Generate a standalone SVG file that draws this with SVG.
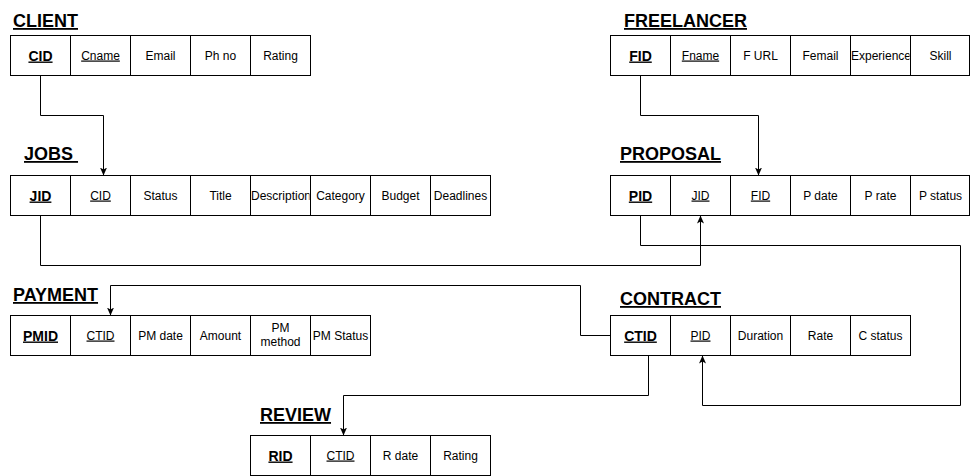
<svg xmlns="http://www.w3.org/2000/svg" width="971" height="476" viewBox="0 0 971 476">
<style>
.bg{fill:#fff}
.c{fill:#fff;stroke:#000;stroke-width:1}
.t{font-family:"Liberation Sans",Arial,sans-serif;font-size:12px;fill:#000;text-anchor:middle}
.k{font-size:14px;font-weight:bold;text-decoration:underline}
.u{text-decoration:underline}
.h{font-family:"Liberation Sans",Arial,sans-serif;font-size:18px;font-weight:bold;fill:#000;text-decoration:underline}
.e{fill:none;stroke:#000;stroke-width:1}
</style>
<defs>
<marker id="arr" markerUnits="userSpaceOnUse" markerWidth="9" markerHeight="8" refX="8" refY="3.5" orient="auto" viewBox="0 0 9 8">
<path d="M0 0 L8 3.5 L0 7 L2 3.5 Z" fill="#000"/>
</marker>
<clipPath id="clipDesc"><rect x="250.5" y="175.5" width="59" height="39"/></clipPath>
<clipPath id="clipExp"><rect x="850.5" y="35.5" width="59" height="39"/></clipPath>
</defs>
<rect class="bg" x="0" y="0" width="971" height="476"/>

<g id="client">
<text class="h" x="13" y="27">CLIENT</text>
<rect class="c" x="10.5" y="35.5" width="60" height="40"/>
<rect class="c" x="70.5" y="35.5" width="60" height="40"/>
<rect class="c" x="130.5" y="35.5" width="60" height="40"/>
<rect class="c" x="190.5" y="35.5" width="60" height="40"/>
<rect class="c" x="250.5" y="35.5" width="60" height="40"/>
<text class="t k" x="40.5" y="60.5">CID</text>
<text class="t u" x="100.5" y="59.5">Cname</text>
<text class="t" x="160.5" y="59.5">Email</text>
<text class="t" x="220.5" y="59.5">Ph no</text>
<text class="t" x="280.5" y="59.5">Rating</text>
</g>

<g id="freelancer">
<text class="h" x="624" y="27">FREELANCER</text>
<rect class="c" x="610.5" y="35.5" width="60" height="40"/>
<rect class="c" x="670.5" y="35.5" width="60" height="40"/>
<rect class="c" x="730.5" y="35.5" width="60" height="40"/>
<rect class="c" x="790.5" y="35.5" width="60" height="40"/>
<rect class="c" x="850.5" y="35.5" width="60" height="40"/>
<rect class="c" x="910.5" y="35.5" width="59" height="40"/>
<text class="t k" x="640.5" y="60.5">FID</text>
<text class="t u" x="700.5" y="59.5">Fname</text>
<text class="t" x="760.5" y="59.5">F URL</text>
<text class="t" x="820.5" y="59.5">Femail</text>
<text class="t" x="881" y="59.5" clip-path="url(#clipExp)">Experience</text>
<text class="t" x="940.5" y="59.5">Skill</text>
</g>

<g id="jobs">
<text class="h" x="24" y="160">JOBS&#160;</text>
<rect class="c" x="10.5" y="175.5" width="60" height="40"/>
<rect class="c" x="70.5" y="175.5" width="60" height="40"/>
<rect class="c" x="130.5" y="175.5" width="60" height="40"/>
<rect class="c" x="190.5" y="175.5" width="60" height="40"/>
<rect class="c" x="250.5" y="175.5" width="60" height="40"/>
<rect class="c" x="310.5" y="175.5" width="60" height="40"/>
<rect class="c" x="370.5" y="175.5" width="60" height="40"/>
<rect class="c" x="430.5" y="175.5" width="60" height="40"/>
<text class="t k" x="40.5" y="200.5">JID</text>
<text class="t u" x="100.5" y="199.5">CID</text>
<text class="t" x="160.5" y="199.5">Status</text>
<text class="t" x="220.5" y="199.5">Title</text>
<text class="t" x="281" y="199.5" clip-path="url(#clipDesc)">Description</text>
<text class="t" x="340.5" y="199.5">Category</text>
<text class="t" x="400.5" y="199.5">Budget</text>
<text class="t" x="460.5" y="199.5">Deadlines</text>
</g>

<g id="proposal">
<text class="h" x="620" y="160">PROPOSAL</text>
<rect class="c" x="610.5" y="175.5" width="60" height="40"/>
<rect class="c" x="670.5" y="175.5" width="60" height="40"/>
<rect class="c" x="730.5" y="175.5" width="60" height="40"/>
<rect class="c" x="790.5" y="175.5" width="60" height="40"/>
<rect class="c" x="850.5" y="175.5" width="60" height="40"/>
<rect class="c" x="910.5" y="175.5" width="59" height="40"/>
<text class="t k" x="640.5" y="200.5">PID</text>
<text class="t u" x="700.5" y="199.5">JID</text>
<text class="t u" x="760.5" y="199.5">FID</text>
<text class="t" x="820.5" y="199.5">P date</text>
<text class="t" x="880.5" y="199.5">P rate</text>
<text class="t" x="940.5" y="199.5">P status</text>
</g>

<g id="payment">
<text class="h" x="13" y="301">PAYMENT</text>
<rect class="c" x="10.5" y="315.5" width="60" height="40"/>
<rect class="c" x="70.5" y="315.5" width="60" height="40"/>
<rect class="c" x="130.5" y="315.5" width="60" height="40"/>
<rect class="c" x="190.5" y="315.5" width="60" height="40"/>
<rect class="c" x="250.5" y="315.5" width="60" height="40"/>
<rect class="c" x="310.5" y="315.5" width="60" height="40"/>
<text class="t k" x="40.5" y="340.5">PMID</text>
<text class="t u" x="100.5" y="339.5">CTID</text>
<text class="t" x="160.5" y="339.5">PM date</text>
<text class="t" x="220.5" y="339.5">Amount</text>
<text class="t" x="280.5" y="331.5">PM</text>
<text class="t" x="280.5" y="345.5">method</text>
<text class="t" x="340.5" y="339.5">PM Status</text>
</g>

<g id="contract">
<text class="h" x="620" y="305">CONTRACT</text>
<rect class="c" x="610.5" y="315.5" width="60" height="40"/>
<rect class="c" x="670.5" y="315.5" width="60" height="40"/>
<rect class="c" x="730.5" y="315.5" width="60" height="40"/>
<rect class="c" x="790.5" y="315.5" width="60" height="40"/>
<rect class="c" x="850.5" y="315.5" width="60" height="40"/>
<text class="t k" x="640.5" y="340.5">CTID</text>
<text class="t u" x="700.5" y="339.5">PID</text>
<text class="t" x="760.5" y="339.5">Duration</text>
<text class="t" x="820.5" y="339.5">Rate</text>
<text class="t" x="880.5" y="339.5">C status</text>
</g>

<g id="review">
<text class="h" x="260" y="421">REVIEW</text>
<rect class="c" x="250.5" y="435.5" width="60" height="40"/>
<rect class="c" x="310.5" y="435.5" width="60" height="40"/>
<rect class="c" x="370.5" y="435.5" width="60" height="40"/>
<rect class="c" x="430.5" y="435.5" width="60" height="40"/>
<text class="t k" x="280.5" y="460.5">RID</text>
<text class="t u" x="340.5" y="459.5">CTID</text>
<text class="t" x="400.5" y="459.5">R date</text>
<text class="t" x="460.5" y="459.5">Rating</text>
</g>

<g id="connectors">
<path class="e" d="M40.5 75.5 V115.5 H103.5 V175.5" marker-end="url(#arr)"/>
<path class="e" d="M640.5 75.5 V115.5 H758.5 V175.5" marker-end="url(#arr)"/>
<path class="e" d="M40.5 215.5 V265.5 H700.5 V215.5" marker-end="url(#arr)"/>
<path class="e" d="M640.5 215.5 V245.5 H960.5 V405.5 H702.5 V355.5" marker-end="url(#arr)"/>
<path class="e" d="M610.5 335.5 H580.5 V285.5 H110.5 V315.5" marker-end="url(#arr)"/>
<path class="e" d="M648.5 355.5 V395.5 H343.5 V435.5" marker-end="url(#arr)"/>
</g>
</svg>
